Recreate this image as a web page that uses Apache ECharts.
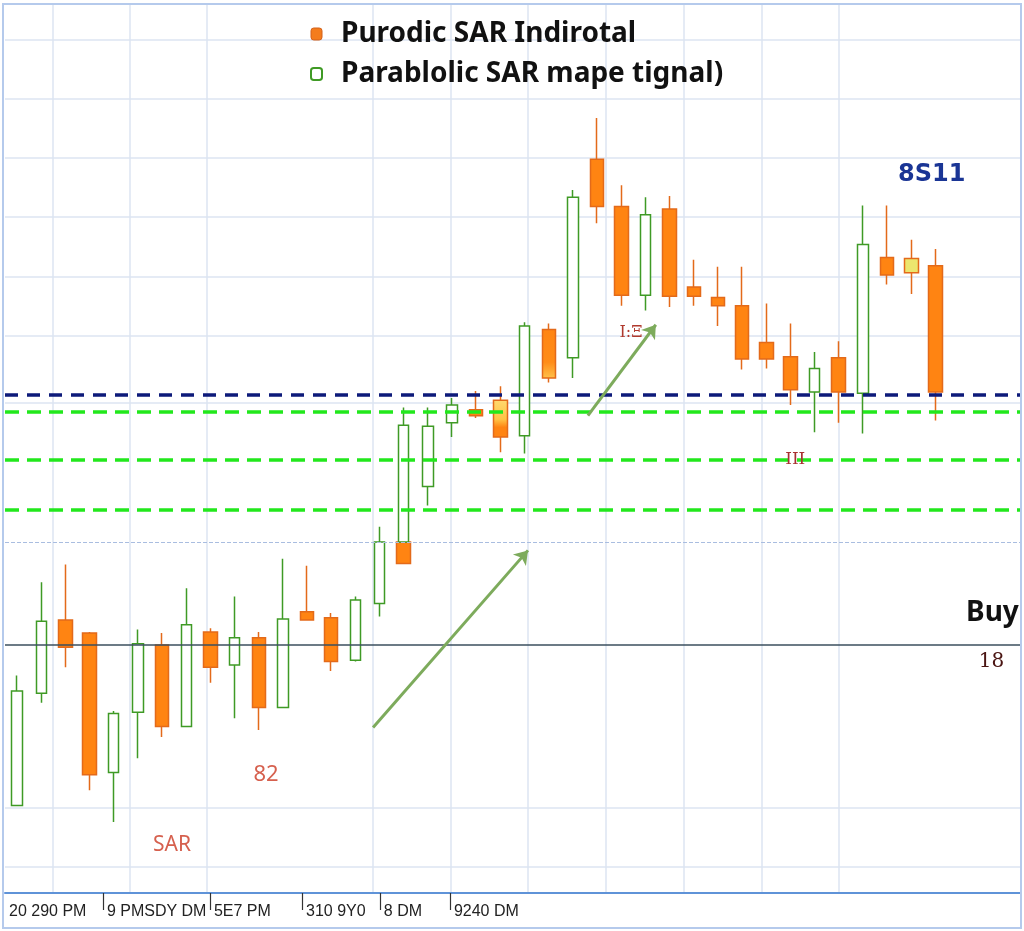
<!DOCTYPE html>
<html>
<head>
<meta charset="utf-8">
<script src="https://cdn.jsdelivr.net/npm/echarts@6/dist/echarts.min.js"></script>
<style>
html, body { margin: 0; padding: 0; background: #fff; }
#chart { width: 1024px; height: 931px; }
#frame { position: absolute; left: 2px; top: 3px; width: 1016px; height: 922px; border: 2px solid #b5caec; pointer-events: none; }
</style>
</head>
<body>
<div id="chart"></div>
<div id="frame"></div>
<script>
// candle values (open, close, low, high), one per slot
const opens  = [105.2, 114.7, 120.9, 119.8, 108.0, 113.1, 118.8, 111.9, 119.9, 117.1, 119.4, 113.5, 121.6, 121.1, 117.5, 122.3, 127.5, 132.2, 137.6, 138.7, 139.5, 136.5, 145.5, 143.1, 159.9, 155.9, 148.4, 155.7, 149.1, 148.2, 147.5, 144.4, 143.2, 140.2, 143.1, 140.1, 151.6, 151.5, 150.9]
const closes = [114.9, 120.8, 118.6, 107.8, 113.0, 118.9, 111.9, 120.5, 116.9, 119.4, 113.5, 121.0, 120.9, 117.4, 122.6, 127.5, 137.4, 137.3, 139.1, 138.2, 136.4, 145.8, 141.4, 156.7, 155.9, 148.4, 155.2, 148.3, 148.3, 147.5, 143.0, 143.0, 140.4, 142.2, 140.2, 152.7, 150.1, 150.3, 140.2]
const lows   = [105.2, 113.9, 116.9, 106.5, 103.8, 109.2, 111.0, 111.9, 115.6, 112.6, 111.6, 113.5, 120.9, 116.6, 117.4, 121.2, 127.5, 130.6, 136.4, 138.0, 135.1, 135.0, 141.0, 141.4, 154.5, 147.5, 147.1, 147.4, 147.5, 145.8, 142.1, 142.2, 139.1, 136.8, 137.6, 136.7, 149.3, 148.5, 137.8]
const highs  = [116.2, 124.1, 125.6, 119.9, 113.2, 120.1, 119.8, 123.6, 120.2, 122.9, 119.9, 126.1, 125.5, 121.5, 122.9, 128.8, 138.9, 138.9, 139.7, 140.3, 140.7, 146.1, 146.0, 157.3, 163.4, 157.7, 156.7, 156.8, 151.4, 150.8, 150.8, 147.7, 146.0, 143.6, 144.5, 156.0, 156.0, 153.1, 152.3]
const slotCount = 42

// second (orange) candle sitting in the same slot as a green one
const extraSlots = [16]
const extraCandles = [[127.5, 125.7, 125.7, 127.5]]

const legendNames = ['Purodic SAR Indirotal', 'Parablolic SAR mape tignal)']

// horizontal levels
const levels = [140.0, 138.5, 134.45, 130.2, 127.5, 118.8]

// y grid lines that show in the picture
const gridYValues = [100, 105, 139.3, 145, 150, 155, 160, 165, 170]
// x grid lines, in slot units
const gridXValues = [1.99, 5.17, 8.36, 15.23, 18.45, 21.64, 24.87, 28.09, 31.32, 34.51]

// time labels, in slot units
const tickLabels = ['20 290 PM', '9 PMSDY DM', '5E7 PM', '310 9Y0', '8 DM', '9240 DM']
const tickLabelPos = [0, 4.05, 8.48, 12.29, 15.51, 18.41]

// arrows [from, to] in (slot, value)
const arrows = [
  [[15.23, 111.8], [21.64, 126.8]],
  [[24.12, 138.2], [26.93, 145.9]]
]

// text notes
const noteTexts = ['SAR', '82', 'Buy', '18', '8S11', 'I:Ξ', 'III']
const noteCoords = [[6.91, 101.9], [10.8, 107.8], [40.86, 121.5], [40.82, 117.4], [38.35, 158.6], [25.9, 145.2], [32.7, 134.5]]

const noteStyles = [
  { fontSize: 21, color: '#d6604e', fontFamily: 'Noto Sans' },
  { fontSize: 22, color: '#d6604e', fontFamily: 'Noto Sans' },
  { fontSize: 28, color: '#111', fontWeight: 'bold', fontFamily: 'Noto Sans' },
  { fontSize: 20, color: '#4a1512', fontFamily: 'DejaVu Serif' },
  { fontSize: 24, color: '#1a3595', fontWeight: 'bold', fontFamily: 'DejaVu Sans' },
  { fontSize: 16, color: '#b03a2e', fontFamily: 'DejaVu Serif' },
  { fontSize: 17, color: '#a83030', fontFamily: 'DejaVu Serif' }
]

const levelStyles = [
  { color: '#0d1a7a', width: 3.5, type: [13, 9] },
  { color: '#22e81c', width: 3.5, type: [14, 8] },
  { color: '#22e81c', width: 3.5, type: [14, 8] },
  { color: '#22e81c', width: 3.5, type: [14, 8] },
  { color: '#a9bde0', width: 1.2, type: [4, 2] },
  { color: '#3b4f5e', width: 1.5, type: 'solid' }
]

// odd body fills
const bodyFills = {
  20: { type: 'linear', x: 0, y: 0, x2: 0, y2: 1, colorStops: [
    { offset: 0, color: '#ffe88e' }, { offset: 0.5, color: '#ffc445' }, { offset: 0.62, color: '#ff8412' }, { offset: 1, color: '#ff8412' }] },
  22: { type: 'linear', x: 0, y: 0, x2: 0, y2: 1, colorStops: [
    { offset: 0, color: '#ff8412' }, { offset: 0.65, color: '#ff8c18' }, { offset: 1, color: '#ffd25a' }] },
  37: '#ece66e'
}

const cats = Array.from({ length: slotCount }, (_, i) => String(i))
const orangeData = cats.map(() => '-')
const greenData = cats.map(() => '-')

opens.forEach((o, i) => {
  const value = [o, closes[i], lows[i], highs[i]]
  if (closes[i] > o) {
    greenData[i] = value
  } else {
    orangeData[i] = bodyFills[i] ? { value, itemStyle: { color0: bodyFills[i], color: bodyFills[i] } } : value
  }
})
extraSlots.forEach((s, k) => { orangeData[s] = extraCandles[k] })

const chart = echarts.init(document.getElementById('chart'))

const option = {
  animation: false,
  grid: { left: 5, right: 4, top: 4.56, bottom: 38 },
  legend: {
    orient: 'vertical',
    left: 305,
    top: 13,
    itemWidth: 11,
    itemHeight: 12,
    itemGap: 8,
    icon: 'roundRect',
    textStyle: { fontSize: 28, fontWeight: 'bold', color: '#111', fontFamily: 'Noto Sans', lineHeight: 32, padding: [0, 0, 0, 14] },
    data: [
      { name: legendNames[0], itemStyle: { color: '#f47c1c', borderColor: '#d2601a', borderWidth: 1 } },
      { name: legendNames[1], itemStyle: { color: '#ffffff', borderColor: '#3f9a25', borderWidth: 2 } }
    ]
  },
  xAxis: [
    {
      type: 'value',
      min: 0,
      max: slotCount,
      position: 'bottom',
      axisLine: { lineStyle: { color: '#5f93d8', width: 2 } },
      axisTick: { show: true, customValues: tickLabelPos.slice(1), length: 17, lineStyle: { color: '#333', width: 1.2 } },
      axisLabel: {
        customValues: tickLabelPos,
        formatter: v => tickLabels[tickLabelPos.indexOf(v)],
        align: 'left',
        padding: [0, 0, 0, 4],
        margin: 11,
        color: '#222',
        fontSize: 16,
        fontFamily: 'Liberation Sans'
      },
      splitLine: { show: false }
    },
    {
      type: 'category',
      data: cats,
      position: 'top',
      axisLine: { show: false },
      axisTick: { show: false },
      axisLabel: { show: false },
      splitLine: { show: false }
    },
    {
      type: 'value',
      min: 0,
      max: slotCount,
      position: 'top',
      axisLine: { show: false },
      axisTick: { show: false, customValues: gridXValues },
      axisLabel: { show: false },
      splitLine: { show: true, lineStyle: { color: '#dde5f2', width: 1.5 } }
    }
  ],
  yAxis: {
    type: 'value',
    min: 97.8,
    max: 173,
    axisLine: { show: false },
    axisLabel: { show: false },
    axisTick: { show: false, customValues: gridYValues },
    splitLine: { show: true, lineStyle: { color: '#dde5f2', width: 1.5 } }
  },
  series: [
    {
      name: legendNames[0],
      type: 'candlestick',
      xAxisIndex: 1,
      barWidth: 14,
      itemStyle: { color: '#ff8412', color0: '#ff8412', borderColor: '#e36a1a', borderColor0: '#e36a1a', borderWidth: 1.5 },
      data: orangeData
    },
    {
      name: legendNames[1],
      type: 'candlestick',
      xAxisIndex: 1,
      barWidth: 11,
      itemStyle: { color: '#ffffff', color0: '#ffffff', borderColor: '#3f9a25', borderColor0: '#3f9a25', borderWidth: 1.5 },
      data: greenData
    },
    {
      name: 'levels',
      type: 'line',
      xAxisIndex: 0,
      data: [],
      z: 5,
      silent: true,
      markLine: {
        silent: true,
        symbol: 'none',
        label: { show: false },
        data: levels.map((v, i) => ({ yAxis: v, lineStyle: levelStyles[i] }))
      }
    },
    {
      name: 'notes',
      type: 'line',
      xAxisIndex: 0,
      data: [],
      z: 6,
      silent: true,
      markLine: {
        silent: true,
        symbol: ['none', 'arrow'],
        symbolSize: 13,
        label: { show: false },
        lineStyle: { color: '#7dab5c', width: 3, type: 'solid' },
        data: arrows.map(a => [{ coord: a[0] }, { coord: a[1] }])
      },
      markPoint: {
        silent: true,
        symbolSize: 0,
        data: noteTexts.map((t, i) => ({
          coord: noteCoords[i],
          label: Object.assign({ show: true, position: 'inside', formatter: t }, noteStyles[i])
        }))
      }
    }
  ]
}

chart.setOption(option)
</script>
</body>
</html>
